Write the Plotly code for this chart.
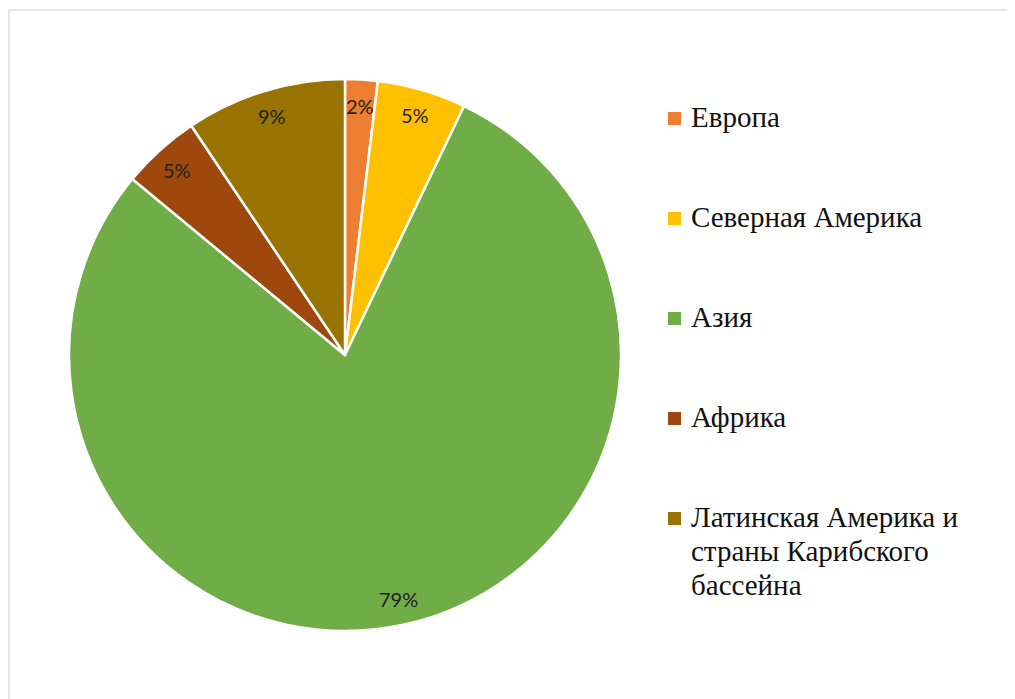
import math
import plotly.graph_objects as go

regions = ["Европа", "Северная Америка", "Азия", "Африка",
           "Латинская Америка и<br>страны Карибского<br>бассейна"]
shares = [1.9, 5.2, 78.9, 4.6, 9.4]
colors = ["#ED7D31", "#FFC000", "#70AD47", "#9E480E", "#997300"]

W, H = 1015, 699
OX, OY = 8, 8          # page body margin compensation
cx, cy, R = 345, 355, 276


def px_x(x):
    return (x - OX) / W


def px_y(y):
    return 1 - (y - OY) / H


fig = go.Figure(go.Pie(
    labels=[r.replace("<br>", " ") for r in regions], values=shares,
    sort=False, direction="clockwise",
    rotation=0, textinfo="none", hoverinfo="label+percent",
    marker=dict(colors=colors, line=dict(color="white", width=2.5)),
    domain=dict(x=[px_x(cx - R), px_x(cx + R)],
                y=[px_y(cy + R), px_y(cy - R)]),
    showlegend=False,
))

total = sum(shares)
cum = 0.0
annotations = []
for v in shares:
    theta = 2 * math.pi * (cum + v / 2) / total
    cum += v
    r = 0.905 * R
    x = cx + r * math.sin(theta)
    y = cy - r * math.cos(theta)
    annotations.append(dict(
        x=px_x(x), y=px_y(y), xref="paper", yref="paper",
        text=f"{round(v / total * 100):d}%", showarrow=False,
        font=dict(family="Lato", size=20, color="#1f1f1f"),
        xanchor="center", yanchor="middle"))

shapes = []
leg_x, leg_y0, leg_step, line_step = 689, 118, 100, 34
for i, (name, col) in enumerate(zip(regions, colors)):
    yc = leg_y0 + i * leg_step
    shapes.append(dict(type="rect", xref="paper", yref="paper",
                       x0=px_x(668), x1=px_x(681),
                       y0=px_y(yc + 7), y1=px_y(yc - 6),
                       fillcolor=col, line=dict(width=0)))
    for k, line in enumerate(name.split("<br>")):
        annotations.append(dict(
            x=px_x(leg_x), y=px_y(yc - 1 + k * line_step),
            xref="paper", yref="paper",
            text=line, showarrow=False, align="left",
            font=dict(family="Liberation Serif", size=29, color="#111111"),
            xanchor="left", yanchor="middle"))

shapes.append(dict(type="line", xref="paper", yref="paper",
                   x0=px_x(9), x1=1, y0=px_y(10), y1=px_y(10),
                   line=dict(color="#E6E6E6", width=2)))
shapes.append(dict(type="line", xref="paper", yref="paper",
                   x0=px_x(9), x1=px_x(9), y0=0, y1=px_y(10),
                   line=dict(color="#E6E6E6", width=2)))

fig.update_layout(
    width=W, height=H, margin=dict(l=0, r=0, t=0, b=0),
    paper_bgcolor="white", plot_bgcolor="white",
    annotations=annotations, shapes=shapes,
)
fig.write_html("out.html")
